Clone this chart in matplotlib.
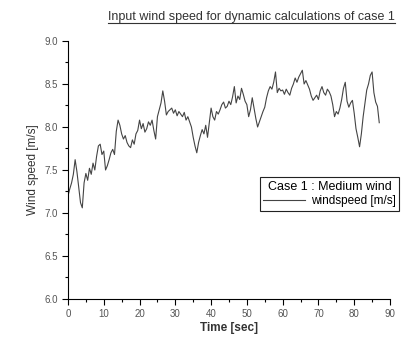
import matplotlib
matplotlib.use("Agg")
import matplotlib.pyplot as plt
import matplotlib.ticker
from matplotlib.lines import Line2D

plt.rcParams.update({"font.family": "sans-serif", "font.sans-serif": ["Liberation Sans"]})

# wind speed trace (0.5 s steps)
time_s = [i * 0.5 for i in range(175)]
wind = [7.20, 7.28, 7.35, 7.45, 7.62, 7.48, 7.30, 7.12, 7.06, 7.35,
        7.46, 7.38, 7.52, 7.45, 7.58, 7.50, 7.66, 7.78, 7.80, 7.68,
        7.72, 7.50, 7.55, 7.62, 7.70, 7.74, 7.68, 7.95, 8.08, 8.02,
        7.92, 7.86, 7.90, 7.82, 7.78, 7.76, 7.85, 7.80, 7.92, 7.96,
        8.08, 7.98, 8.04, 7.94, 7.98, 8.06, 8.02, 8.08, 7.96, 7.86,
        8.12, 8.20, 8.28, 8.42, 8.30, 8.14, 8.18, 8.20, 8.22, 8.16,
        8.20, 8.13, 8.18, 8.15, 8.12, 8.17, 8.08, 8.12, 8.06, 8.00,
        7.88, 7.78, 7.70, 7.82, 7.90, 7.97, 7.92, 8.02, 7.88, 8.05,
        8.22, 8.12, 8.08, 8.18, 8.15, 8.20, 8.26, 8.29, 8.22, 8.24,
        8.30, 8.26, 8.35, 8.47, 8.28, 8.36, 8.32, 8.45, 8.38, 8.30,
        8.26, 8.12, 8.20, 8.34, 8.22, 8.10, 8.00, 8.06, 8.12, 8.18,
        8.23, 8.34, 8.42, 8.47, 8.44, 8.52, 8.64, 8.40, 8.45, 8.42,
        8.43, 8.38, 8.44, 8.40, 8.37, 8.45, 8.50, 8.57, 8.52, 8.58,
        8.62, 8.66, 8.50, 8.54, 8.49, 8.44, 8.36, 8.31, 8.34, 8.37,
        8.32, 8.42, 8.47, 8.40, 8.37, 8.44, 8.41, 8.36, 8.26, 8.12,
        8.18, 8.15, 8.22, 8.32, 8.45, 8.52, 8.30, 8.23, 8.28, 8.31,
        8.16, 7.98, 7.88, 7.77, 7.92, 8.12, 8.28, 8.43, 8.50, 8.60,
        8.64, 8.40, 8.29, 8.24, 8.05]

x_ticks = list(range(0, 91, 10))
y_ticks = [6.0, 6.5, 7.0, 7.5, 8.0, 8.5, 9.0]

fig = plt.figure(figsize=(4.03, 3.38), dpi=100)
ax = fig.add_axes([0.1687, 0.1154, 0.799, 0.7633])

ax.plot(time_s, wind, color='#444444', linewidth=0.8, label='windspeed [m/s]')

ax.set_xlim(0, 90)
ax.set_ylim(6.0, 9.0)
ax.set_xticks(x_ticks)
ax.set_yticks(y_ticks)
ax.xaxis.set_minor_locator(matplotlib.ticker.MultipleLocator(5))
ax.yaxis.set_minor_locator(matplotlib.ticker.MultipleLocator(0.25))
ax.yaxis.set_major_formatter(matplotlib.ticker.StrMethodFormatter("{x:.1f}"))
ax.tick_params(axis='both', which='major', direction='out', length=4, width=0.8,
               labelsize=7, labelcolor='#555555')
ax.tick_params(axis='both', which='minor', direction='out', length=2, width=0.8)
ax.spines['right'].set_visible(False)
ax.spines['top'].set_visible(False)

ax.set_xlabel('Time [sec]', fontsize=8.5, fontweight='bold', color='#333333', labelpad=2)
ax.set_ylabel('Wind speed [m/s]', fontsize=8.5, color='#333333', labelpad=4)

leg = ax.legend(title='Case 1 : Medium wind', loc='upper right', fontsize=8.5,
                title_fontsize=9, bbox_to_anchor=(0.990, 0.476),
                bbox_transform=fig.transFigure, fancybox=False, framealpha=1,
                edgecolor='#222222', handlelength=3.5, borderpad=0.3,
                labelspacing=0.2, handletextpad=0.5, borderaxespad=0)
leg.get_frame().set_linewidth(0.8)

title = fig.text(0.981, 0.941, 'Input wind speed for dynamic calculations of case 1',
                 ha='right', va='baseline', fontsize=9, color='#333333')
fig.canvas.draw()
bb = title.get_window_extent().transformed(fig.transFigure.inverted())
fig.add_artist(Line2D([bb.x0, bb.x1], [0.931, 0.931], transform=fig.transFigure,
                      color='#333333', linewidth=0.8))

fig.savefig('out.png', dpi=100)
